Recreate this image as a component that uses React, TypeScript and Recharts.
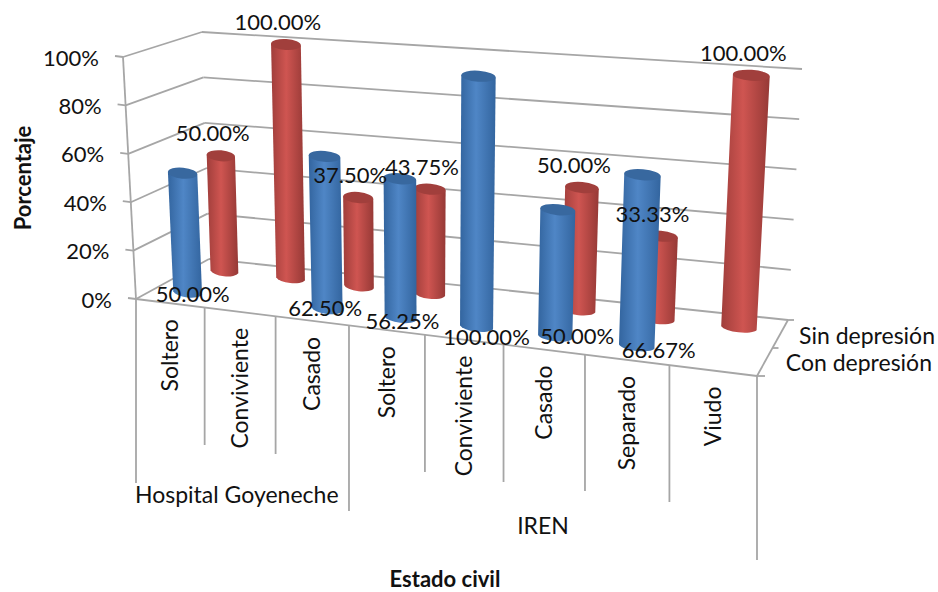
import { Bar, BarChart, CartesianGrid, LabelList, XAxis, YAxis } from "recharts";

const CHART_W = 938;
const CHART_H = 592;
// the axes need a pixel of room or they are not drawn at all
const GUTTER = 1;
const FONT = "Lato, Carlito, sans-serif";

const categories = ["Soltero", "Conviviente", "Casado", "Soltero", "Conviviente", "Casado", "Separado", "Viudo"];
const conDepresion = [50, null, 62.5, 56.25, 100, 50, 66.67, null];
const sinDepresion = [50, 100, 37.5, 43.75, null, 50, 33.33, 100];
const percentTicks = [0, 20, 40, 60, 80, 100];

const rows = categories.map((category, i) => ({
  category,
  con: conDepresion[i],
  sin: sinDepresion[i],
}));

type Pt = [number, number];

// corners of the box: floor and ceiling, front and back
const FLOOR = { fl: [136, 299], fr: [757, 376], bl: [209, 259], br: [788, 320] };
const CEIL = { fl: [123, 57], fr: [771, 109], bl: [202, 32], br: [802, 69] };
const FORESHORTEN = 0.87;

const ROW_FRONT = 0.25;
const ROW_BACK = 0.77;

const mix = (a: number[], b: number[], t: number): Pt => [a[0] + (b[0] - a[0]) * t, a[1] + (b[1] - a[1]) * t];

// u along the categories, v into the depth, h up the value axis (all 0..1)
function project(u: number, v: number, h: number): Pt {
  const t = (u * FORESHORTEN) / (1 - u + u * FORESHORTEN);
  const low = mix(mix(FLOOR.fl, FLOOR.fr, t), mix(FLOOR.bl, FLOOR.br, t), v);
  const high = mix(mix(CEIL.fl, CEIL.fr, t), mix(CEIL.bl, CEIL.br, t), v);
  return mix(low, high, h);
}

const toU = (x: number) => (x - GUTTER) / (CHART_W - GUTTER);
const toH = (y: number) => 1 - y / (CHART_H - GUTTER);
const spanU = (w: number) => w / (CHART_W - GUTTER);

const line = (a: number[], b: number[]) => ({ x1: a[0], y1: a[1], x2: b[0], y2: b[1] });
const GREY = "#a6a6a6";

function Cylinder(props: any) {
  const { x, y, width, height, depth, body, cap } = props;
  if (!height || height <= 0) return null;
  const u = toU(x + width / 2);
  const half = spanU(width) / 2;
  const h0 = toH(y + height);
  const h1 = toH(y);
  const bl = project(u - half, depth, h0);
  const br = project(u + half, depth, h0);
  const tl = project(u - half, depth, h1);
  const tr = project(u + half, depth, h1);
  const rx = Math.hypot(tr[0] - tl[0], tr[1] - tl[1]) / 2;
  const ry = 5.5;
  const baseTilt = (Math.atan2(br[1] - bl[1], br[0] - bl[0]) * 180) / Math.PI;
  const topTilt = (Math.atan2(tr[1] - tl[1], tr[0] - tl[0]) * 180) / Math.PI;
  const d = `M${tl[0]},${tl[1]} L${bl[0]},${bl[1]} A${rx},${ry} ${baseTilt} 0 0 ${br[0]},${br[1]} L${tr[0]},${tr[1]} Z`;
  return (
    <g>
      <path d={d} fill={`url(#${body})`} />
      <ellipse
        cx={(tl[0] + tr[0]) / 2}
        cy={(tl[1] + tr[1]) / 2}
        rx={rx}
        ry={ry}
        fill={cap}
        transform={`rotate(${topTilt} ${(tl[0] + tr[0]) / 2} ${(tl[1] + tr[1]) / 2})`}
      />
    </g>
  );
}

// hand placed values at the foot of the front row, in drawing order:
// LabelList skips the empty categories, so its index only counts drawn bars
const frontLabelNudge: Pt[] = [
  [5, 1],
  [-2, -2],
  [2, 2],
  [10, 9],
  [22, -1],
  [22, 3],
];

const fmt = (v: number) => `${v.toFixed(2)}%`;
const valueStyle = { fontFamily: FONT, fontSize: 22, fill: "#111" };
const textStyle = { fontFamily: FONT, fontSize: 23, fill: "#111" };
const titleStyle = { fontFamily: FONT, fontSize: 22, fontWeight: 700, fill: "#111" };

function FrontLabel(props: any) {
  const { x, y, width, height, value, index } = props;
  if (value == null || !height) return null;
  const p = project(toU(x + width / 2), ROW_FRONT, toH(y + height));
  const n = frontLabelNudge[index] ?? [0, 0];
  return (
    <text x={p[0] + n[0]} y={p[1] + n[1]} textAnchor="middle" dominantBaseline="central" {...valueStyle}>
      {fmt(value)}
    </text>
  );
}

function BackLabel(props: any) {
  const { x, y, width, height, value } = props;
  if (value == null || !height) return null;
  const p = project(toU(x + width / 2), ROW_BACK, toH(y));
  return (
    <text x={p[0] - 8} y={p[1] - 23} textAnchor="middle" dominantBaseline="central" {...valueStyle}>
      {fmt(value)}
    </text>
  );
}

// side wall and back wall lines for one value of the axis
function WallLine(props: any) {
  const h = toH(props.y1);
  return (
    <g stroke={GREY} strokeWidth={1.8} fill="none">
      <line {...line(project(0, 0, h), project(0, 1, h))} />
      <line {...line(project(0, 1, h), project(1, 1, h))} />
    </g>
  );
}

function PercentTick(props: any) {
  const h = toH(props.y);
  const p = project(0, 0, h);
  return (
    <g>
      <line {...line([p[0] - 8, p[1] - 1], p)} stroke={GREY} strokeWidth={1.8} />
      <text x={p[0] - 24} y={p[1]} textAnchor="end" dominantBaseline="central" {...valueStyle}>
        {props.payload.value}%
      </text>
    </g>
  );
}

function CategoryTick(props: any) {
  const { x, payload } = props;
  const p = project(toU(x), 0, 0);
  return (
    <text
      x={p[0] - 1}
      y={p[1] + 16}
      textAnchor="end"
      dominantBaseline="central"
      transform={`rotate(-90 ${p[0] - 1} ${p[1] + 16})`}
      {...textStyle}
    >
      {payload.value}
    </text>
  );
}

// how far each divider under the axis runs down, first one at the left corner
const dividerEnds = [483, 445, 454, 511, 472, 482, 491, 502, 560];

function Frame() {
  const frontRight = project(1, 0, 0);
  const backRight = project(1, 1, 0);
  const midRight = project(1, 0.5, 0);
  return (
    <g stroke={GREY} strokeWidth={1.8} fill="none">
      <line {...line(project(0, 0, 0), project(0, 0, 1))} />
      <line {...line(project(0, 0, 0), frontRight)} />
      <line {...line(frontRight, backRight)} />
      <line {...line(backRight, [backRight[0] + 6, backRight[1]])} />
      <line {...line(midRight, [midRight[0] + 6, midRight[1]])} />
      <line {...line(frontRight, [frontRight[0] + 8, frontRight[1]])} />
      {dividerEnds.map((end, i) => {
        const top = project(i / categories.length, 0, 0);
        return <line key={i} {...line(top, [top[0], end])} />;
      })}
    </g>
  );
}

function Captions() {
  return (
    <g>
      <text x={135} y={494} dominantBaseline="central" {...textStyle}>Hospital Goyeneche</text>
      <text x={543} y={525} textAnchor="middle" dominantBaseline="central" {...textStyle}>IREN</text>
      <text x={935} y={335} textAnchor="end" dominantBaseline="central" {...textStyle}>Sin depresión</text>
      <text x={932} y={362} textAnchor="end" dominantBaseline="central" {...textStyle}>Con depresión</text>
      <text x={445} y={578} textAnchor="middle" dominantBaseline="central" {...titleStyle}>Estado civil</text>
      <text x={22} y={178} textAnchor="middle" dominantBaseline="central" transform="rotate(-90 22 178)" {...titleStyle}>Porcentaje</text>
    </g>
  );
}

export default function App() {
  return (
    <div style={{ position: "absolute", left: 0, top: 0, background: "#fff" }}>
      <BarChart width={CHART_W} height={CHART_H} data={rows} margin={{ top: 0, right: 0, bottom: 0, left: 0 }} barCategoryGap="28.5%">
        <defs>
          <linearGradient id="blueBody" x1="0" y1="0" x2="1" y2="0">
            <stop offset="0" stopColor="#33659f" />
            <stop offset="0.45" stopColor="#4f86c6" />
            <stop offset="1" stopColor="#33659f" />
          </linearGradient>
          <linearGradient id="redBody" x1="0" y1="0" x2="1" y2="0">
            <stop offset="0" stopColor="#a03e3b" />
            <stop offset="0.45" stopColor="#cf5551" />
            <stop offset="1" stopColor="#963936" />
          </linearGradient>
        </defs>
        <CartesianGrid vertical={false} horizontal={(p: any) => <WallLine key={p.index} {...p} />} />
        <Frame />
        <XAxis xAxisId="front" dataKey="category" height={GUTTER} axisLine={false} tickLine={false} interval={0} tick={<CategoryTick />} />
        <XAxis xAxisId="back" dataKey="category" hide />
        <XAxis xAxisId="labels" dataKey="category" hide />
        <YAxis width={GUTTER} domain={[0, 100]} ticks={percentTicks} axisLine={false} tickLine={false} interval={0} tick={<PercentTick />} />
        <Bar
          xAxisId="back"
          dataKey="sin"
          isAnimationActive={false}
          shape={(p: any) => <Cylinder {...p} depth={ROW_BACK} body="redBody" cap="#a13f3c" />}
        />
        <Bar
          xAxisId="front"
          dataKey="con"
          isAnimationActive={false}
          shape={(p: any) => <Cylinder {...p} depth={ROW_FRONT} body="blueBody" cap="#38689f" />}
        >
          <LabelList content={<FrontLabel />} />
        </Bar>
        {/* back row values go last so they stay readable over the front cylinders */}
        <Bar xAxisId="labels" dataKey="sin" isAnimationActive={false} shape={() => null}>
          <LabelList content={<BackLabel />} />
        </Bar>
        <Captions />
      </BarChart>
    </div>
  );
}
